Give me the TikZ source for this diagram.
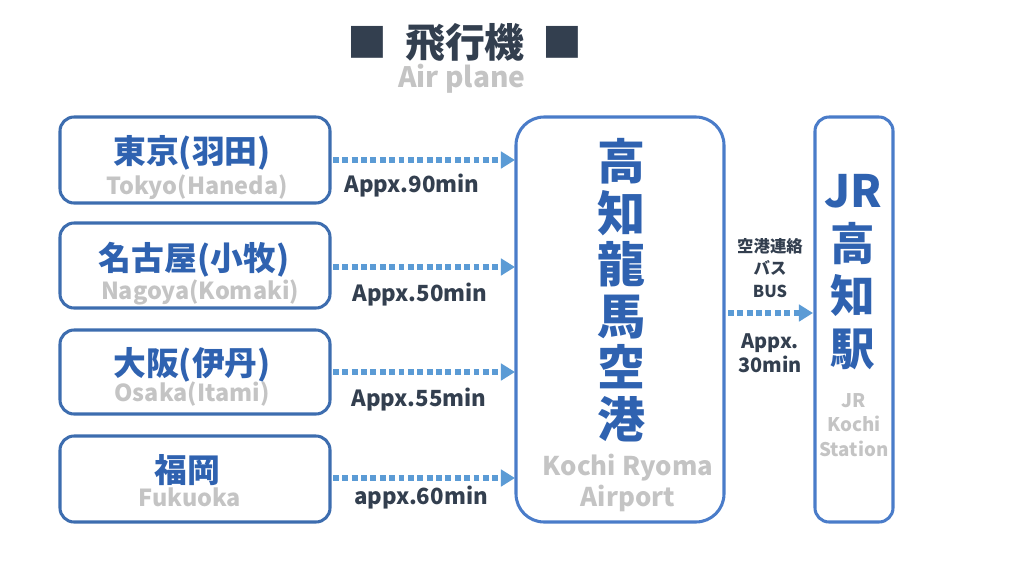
\documentclass[tikz,border=0pt]{standalone}
\usepackage{fontspec}
\setmainfont{Noto Sans CJK JP}
\definecolor{boxblue}{HTML}{3D6DAF}
\definecolor{apblue}{HTML}{4A7CC9}
\definecolor{txtblue}{HTML}{2F62B0}
\definecolor{lgray}{HTML}{C4C4C4}
\definecolor{arrblue}{HTML}{5B9BD5}
\definecolor{dark}{HTML}{333F4F}
\tikzset{
  cbox/.style={draw=boxblue, line width=2.6pt, rounded corners=12pt},
  jp/.style={text=txtblue, font=\bfseries\fontsize{28}{30}\selectfont},
  en/.style={text=lgray, font=\bfseries\fontsize{20}{22}\selectfont},
  lbl/.style={text=dark, font=\bfseries\fontsize{19}{21}\selectfont},
  dots/.style={arrblue, line width=5pt, dash pattern=on 5pt off 3pt, -{Triangle[length=12pt,width=14pt]}}
}
\usetikzlibrary{arrows.meta}
\begin{document}
\begin{tikzpicture}[x=0.03cm, y=-0.03cm]
\useasboundingbox (0,0) rectangle (1024,576);

% title
\node[text=dark, font=\bfseries\fontsize{34}{36}\selectfont] (title) at (465,43) {■\ \ 飛行機\ \ ■};
\node[en, font=\bfseries\fontsize{24}{26}\selectfont] (titleen) at (462,79) {Air plane};

% origins
\draw[cbox] (60,117) rectangle (330,203);
\draw[cbox] (60,223) rectangle (330,308);
\draw[cbox] (60,330) rectangle (330,414);
\draw[cbox] (60,436) rectangle (330,522);
\node[jp] (tky) at (192,153) {東京(羽田)};
\node[en] (tkyen) at (197,187) {Tokyo(Haneda)};
\node[jp] (ngy) at (194,260) {名古屋(小牧)};
\node[en] (ngyen) at (200,292) {Nagoya(Komaki)};
\node[jp] (osk) at (192,365) {大阪(伊丹)};
\node[en] (osken) at (192,394) {Osaka(Itami)};
\node[jp] (fko) at (187,470) {福岡};
\node[en] (fkoen) at (190,497) {Fukuoka};

% airport
\draw[draw=apblue, line width=2.6pt, rounded corners=24pt] (516,117) rectangle (724,522);
\node[text=txtblue, font=\bfseries\fontsize{41}{44}\selectfont, align=center] (ap) at (622,290)
  {高\\知\\龍\\馬\\空\\港};
\node[en, font=\bfseries\fontsize{22}{27}\selectfont, align=center] (apen) at (628,483) {Kochi Ryoma\\Airport};

% JR
\draw[draw=apblue, line width=2.6pt, rounded corners=12pt] (815,117) rectangle (893,522);
\node[text=txtblue, font=\bfseries\fontsize{38}{45}\selectfont, align=center] (jr) at (853,272)
  {JR\\高\\知\\駅};
\node[en, font=\bfseries\fontsize{16}{21}\selectfont, align=center] (jren) at (854,425) {JR\\Kochi\\Station};

% arrows
\coordinate (a1) at (333,160); \coordinate (b1) at (515,160);
\coordinate (a2) at (333,267); \coordinate (b2) at (515,267);
\coordinate (a3) at (333,372); \coordinate (b3) at (515,372);
\coordinate (a4) at (333,478); \coordinate (b4) at (515,478);
\coordinate (a5) at (728,313); \coordinate (b5) at (813,313);
\draw[dots] (a1) -- (b1);
\draw[dots] (a2) -- (b2);
\draw[dots] (a3) -- (b3);
\draw[dots] (a4) -- (b4);
\draw[dots] (a5) -- (b5);
\node[lbl] (t1) at (412,186) {Appx.90min};
\node[lbl] (t2) at (420,295) {Appx.50min};
\node[lbl] (t3) at (419,400) {Appx.55min};
\node[lbl] (t4) at (421,498) {appx.60min};
\node[lbl, font=\bfseries\fontsize{14}{19}\selectfont, align=center] (bus) at (770,268) {空港連絡\\バス\\BUS};
\node[lbl, align=center, font=\bfseries\fontsize{17}{20}\selectfont] (t5) at (770,353) {Appx.\\30min};
\end{tikzpicture}
\end{document}
